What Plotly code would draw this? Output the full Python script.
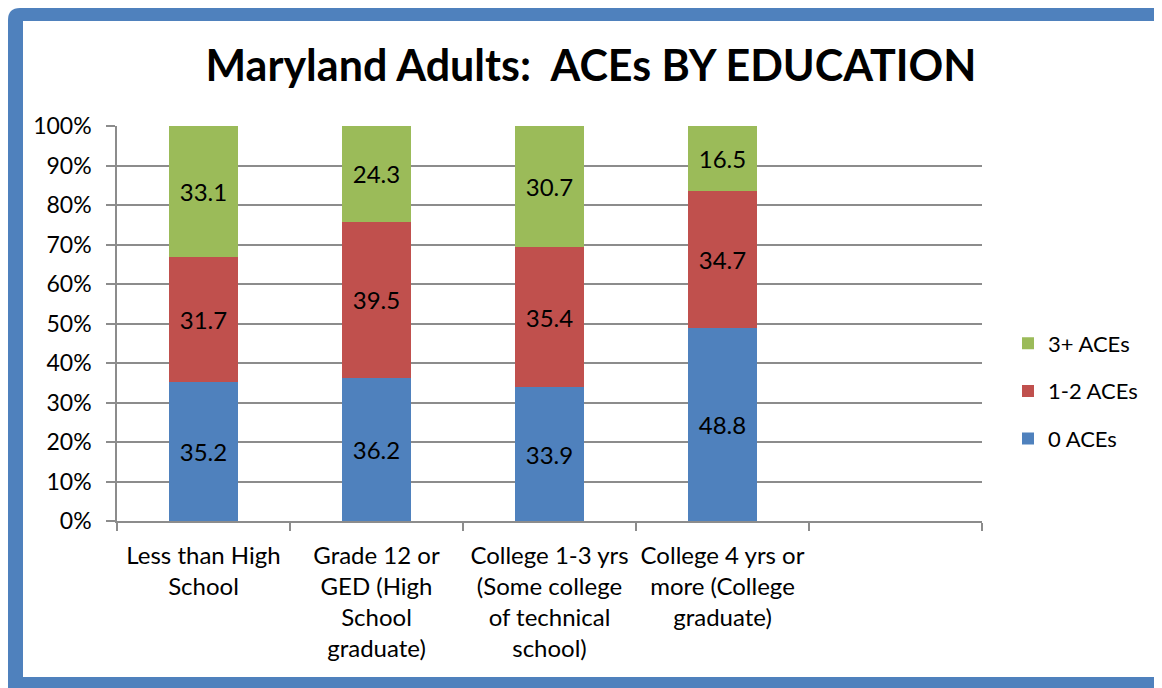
import plotly.graph_objects as go

categories = [
    "Less than High<br>School",
    "Grade 12 or<br>GED (High<br>School<br>graduate)",
    "College 1-3 yrs<br>(Some college<br>of technical<br>school)",
    "College 4 yrs or<br>more (College<br>graduate)",
]
aces_0 = [35.2, 36.2, 33.9, 48.8]
aces_1_2 = [31.7, 39.5, 35.4, 34.7]
aces_3p = [33.1, 24.3, 30.7, 16.5]
series_names = ["0 ACEs", "1-2 ACEs", "3+ ACEs"]
series_colors = ["#4F81BD", "#C0504D", "#9BBB59"]
legend_ranks = [3, 2, 1]
y_ticks = [0, 10, 20, 30, 40, 50, 60, 70, 80, 90, 100]
y_tick_labels = [f"{v}%" for v in y_ticks]

FONT = "Lato"
OFF = 8  # page body margin
W, H = 1162 - OFF, 688 - OFF
L, T = 117 - OFF, 126 - OFF
R, B = 1162 - 982, 688 - 521
PW, PH = W - L - R, H - T - B

def px_x(p):
    return (p - OFF - L) / PW

def px_y(p):
    return (H + OFF - B - p) / PH

xpos = list(range(len(categories)))
fig = go.Figure()
for name, vals, col, rk in zip(series_names, [aces_0, aces_1_2, aces_3p], series_colors, legend_ranks):
    fig.add_trace(go.Bar(
        x=xpos, y=vals, name=name, marker=dict(color=col, line=dict(width=0)),
        text=[f"{v:.1f}" for v in vals], textposition="inside",
        insidetextanchor="middle", textfont=dict(color="black", size=24, family=FONT),
        legendgroup=name, legendrank=rk, width=0.4,
    ))

grid = "#8C8C8C"
fig.update_layout(
    width=W, height=H,
    margin=dict(l=L, r=R, t=T, b=B),
    barmode="stack",
    paper_bgcolor="white", plot_bgcolor="rgba(0,0,0,0)",
    font=dict(family=FONT, color="black", size=24),
    title=dict(text="<b>Maryland Adults:&nbsp; ACEs BY EDUCATION</b>",
               x=(591 - OFF) / W, xanchor="center", y=1 - (66 - OFF) / H, yanchor="middle",
               font=dict(size=43, family=FONT, color="black")),
    xaxis=dict(range=[-0.5, 4.5], tickmode="array", tickvals=xpos, ticktext=categories,
               ticks="", showgrid=False, showline=True, linecolor=grid, linewidth=1.5,
               zeroline=False, tickfont=dict(size=24), ticklabelstandoff=12,
               minor=dict(tickmode="array", tickvals=[-0.5, 0.5, 1.5, 2.5, 3.5, 4.5],
                          ticks="outside", ticklen=8, tickcolor=grid, tickwidth=1.5, showgrid=False)),
    yaxis=dict(range=[0, 100], tickmode="array", tickvals=y_ticks, ticktext=y_tick_labels,
               ticks="outside", ticklen=9, tickcolor=grid, tickwidth=1.5,
               showgrid=True, gridcolor=grid, gridwidth=1.5,
               showline=True, linecolor=grid, linewidth=1.5, zeroline=False,
               tickfont=dict(size=23), ticklabelstandoff=10),
    legend=dict(x=px_x(1008), xanchor="left", y=px_y(391), yanchor="middle",
                traceorder="grouped", font=dict(size=22), tracegroupgap=16,
                bgcolor="rgba(0,0,0,0)"),
    showlegend=True,
    shapes=[
        dict(type="path", xref="paper", yref="paper", layer="below",
             path=(f"M {px_x(8)} {px_y(700)} L {px_x(8)} {px_y(20)} "
                   f"Q {px_x(8)} {px_y(8)} {px_x(20)} {px_y(8)} "
                   f"L {px_x(1175)} {px_y(8)} L {px_x(1175)} {px_y(700)} Z"),
             fillcolor="#4F81BD", line=dict(width=0)),
        dict(type="rect", xref="paper", yref="paper", layer="below",
             x0=px_x(23), x1=px_x(1158), y0=px_y(677), y1=px_y(21),
             fillcolor="white", line=dict(width=0)),
    ],
)
fig.write_html("out.html")
